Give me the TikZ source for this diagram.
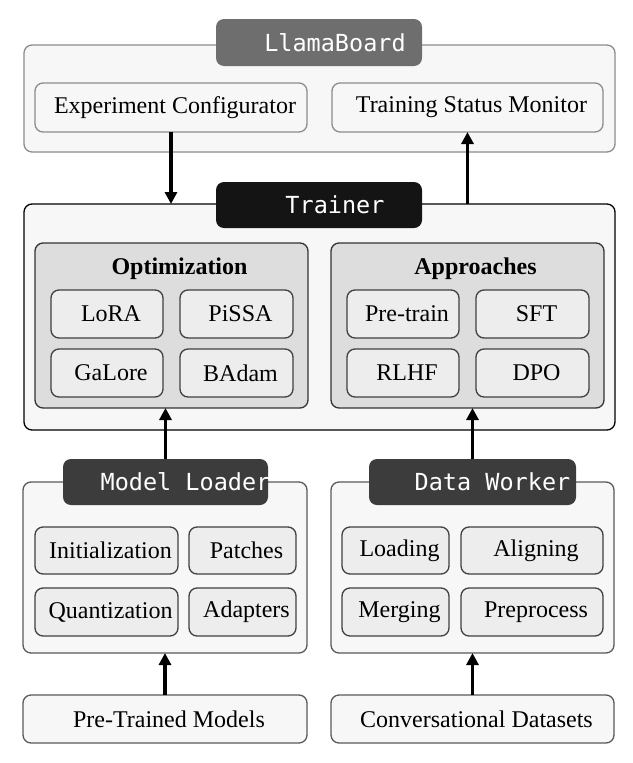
\documentclass[tikz,border=0pt]{standalone}
\usepackage{fontspec}
\setmainfont{Liberation Serif}
\setmonofont{DejaVu Sans Mono}
\usetikzlibrary{arrows.meta,positioning}
\definecolor{paper}{HTML}{F7F7F7}
\definecolor{groupfill}{HTML}{DDDDDD}
\definecolor{itemfill}{HTML}{EDEDED}
\definecolor{boardtabfill}{HTML}{6E6E6E}
\definecolor{traintabfill}{HTML}{141414}
\definecolor{moduletabfill}{HTML}{3C3C3C}
\begin{document}
\begin{tikzpicture}[
    x=1pt, y=-1pt,
    font=\fontsize{24}{28}\selectfont,
    box/.style={rounded corners=8pt, inner sep=0pt, outer sep=0pt, line width=1.3pt,
        execute at begin node={\hspace*{8pt}}},
    panel/.style={box, draw=#1, fill=paper},
    group/.style={box, draw=black!80, fill=groupfill},
    item/.style={box, draw=black!75, fill=itemfill, minimum height=48pt},
    tab/.style={box, fill=#1, minimum width=206pt, minimum height=46pt},
    tabtext/.style={text=white, font=\fontsize{23.5}{27}\ttfamily},
    grouptitle/.style={anchor=base, font=\fontsize{24}{28}\bfseries},
    flow/.style={line width=3.2pt, -{Triangle[length=12pt,width=12pt]}}
    ]
	\useasboundingbox (0,0) rectangle (632,763);
	\node [panel=black!45, minimum width=591pt, minimum height=107pt] (board) at (319.5,98.5) {};
	\node [tab=boardtabfill, minimum height=47pt] (boardtab) at (319,42.5) {};
	\node [tabtext] at ([xshift=16pt]boardtab.center) {LlamaBoard};
	\node [panel=black!45, minimum width=272pt, minimum height=49pt] (conf) at (171,107.5) {Experiment Configurator};
	\node [panel=black!45, minimum width=271pt, minimum height=49pt] (monitor) at (467.5,107.5) {Training Status Monitor};

	\node [panel=black, minimum width=591pt, minimum height=226pt] (trainer) at (319.5,317) {};
	\node [tab=traintabfill] (trainertab) at (319,205) {};
	\node [tabtext] at ([xshift=16pt]trainertab.center) {Trainer};
	\node [group, minimum width=273pt, minimum height=165pt] (optim) at (171.5,325.5) {};
	\node [grouptitle] at (179.5,274) {Optimization};
	\node [item, minimum width=112pt] (lora) at (107,314) {LoRA};
	\node [item, minimum width=113pt] (pissa) at (236.5,314) {PiSSA};
	\node [item, minimum width=112pt] (galore) at (107,373) {GaLore};
	\node [item, minimum width=113pt] (badam) at (236.5,373) {BAdam};
	\node [group, minimum width=273pt, minimum height=165pt] (appr) at (467.5,325.5) {};
	\node [grouptitle] at (475.5,274) {Approaches};
	\node [item, minimum width=112pt] (pretrain) at (403,314) {Pre-train};
	\node [item, minimum width=113pt] (sft) at (532.5,314) {SFT};
	\node [item, minimum width=112pt] (rlhf) at (403,373) {RLHF};
	\node [item, minimum width=113pt] (dpo) at (532.5,373) {DPO};

	\node [panel=black!65, minimum width=284pt, minimum height=171pt] (loader) at (165,567.5) {};
	\node [tab=moduletabfill, minimum width=205pt] (loadtab) at (165.5,482) {};
	\node [tabtext] at ([xshift=20pt]loadtab.center) {Model Loader};
	\node [item, minimum width=143pt, minimum height=47pt] (init) at (106.5,550.5) {Initialization};
	\node [item, minimum width=107pt, minimum height=47pt] (patches) at (242.5,550.5) {Patches};
	\node [item, minimum width=143pt] (quant) at (106.5,612) {Quantization};
	\node [item, minimum width=107pt] (adapters) at (242.5,612) {Adapters};

	\node [panel=black!65, minimum width=283pt, minimum height=171pt] (worker) at (472.5,567.5) {};
	\node [tab=moduletabfill, minimum width=207pt] (worktab) at (472.5,482) {};
	\node [tabtext] at ([xshift=20pt]worktab.center) {Data Worker};
	\node [item, minimum width=107pt, minimum height=47pt] (loading) at (395.5,550.5) {Loading};
	\node [item, minimum width=142pt, minimum height=47pt] (aligning) at (532,550.5) {Aligning};
	\node [item, minimum width=107pt] (merging) at (395.5,612) {Merging};
	\node [item, minimum width=142pt] (preprocess) at (532,612) {Preprocess};

	\node [panel=black!65, minimum width=284pt, minimum height=48pt] (models) at (165,719) {Pre-Trained Models};
	\node [panel=black!65, minimum width=283pt, minimum height=48pt] (datasets) at (472.5,719) {Conversational Datasets};

	\draw [flow] (conf) -- (conf |- trainer.north);
	\draw [flow] (monitor |- trainer.north) -- (monitor);
	\draw [flow] (loadtab) -- (loadtab |- optim.south);
	\draw [flow] (worktab) -- (worktab |- appr.south);
	\draw [flow] (models) -- (models |- loader.south);
	\draw [flow] (datasets) -- (datasets |- worker.south);
  \end{tikzpicture}
\end{document}
